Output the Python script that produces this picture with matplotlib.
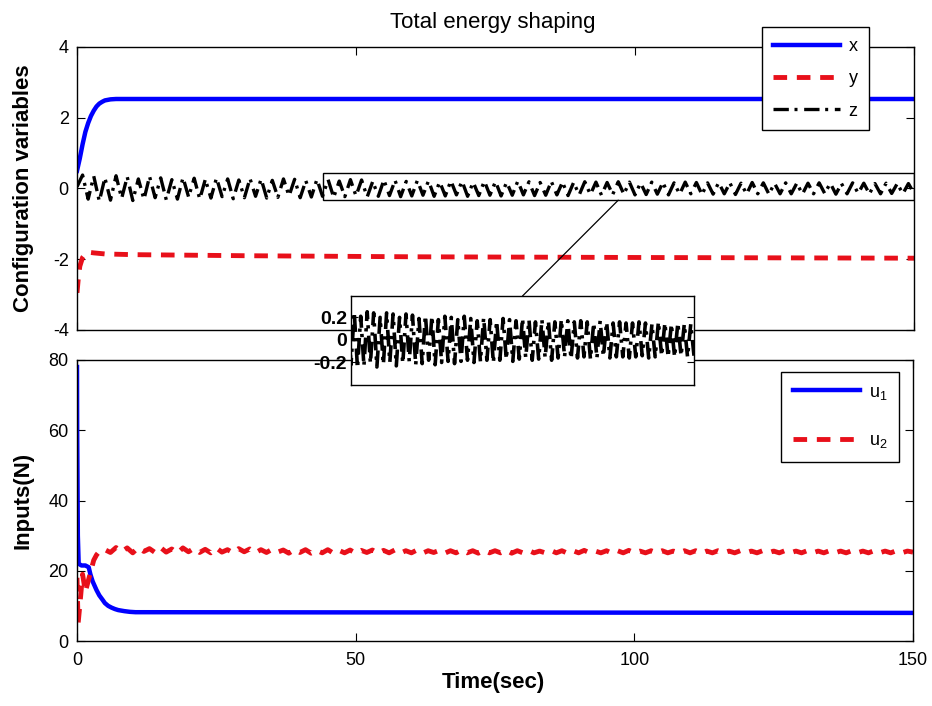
import numpy as np
import matplotlib
matplotlib.use("Agg")
import matplotlib.pyplot as plt
from matplotlib.patches import Rectangle, ConnectionPatch

plt.rcParams['font.family'] = 'Liberation Sans'
plt.rcParams['mathtext.default'] = 'regular'
plt.rcParams['axes.unicode_minus'] = False

# ---- configuration variables ----
t_x = [0, 0.5, 1, 1.5, 2, 2.5, 3, 3.5, 4, 4.5, 5, 6, 7, 8, 150]
x_val = [0.5, 0.85, 1.25, 1.6, 1.85, 2.05, 2.2, 2.32, 2.4, 2.45, 2.49, 2.52, 2.53, 2.53, 2.53]

t_y = [0, 0.2, 0.5, 1, 1.5, 2, 3, 5, 10, 30, 60, 100, 150]
y_val = [-2.95, -2.6, -2.2, -1.95, -1.85, -1.8, -1.82, -1.85, -1.87, -1.9, -1.93, -1.95, -1.97]

# z sampled once per second, 0..150 s
t_z = np.arange(0, 151, 1.0)
z_val = [
    0.05, 0.38, -0.30, 0.35, -0.36, 0.30, -0.33, 0.36, -0.28, 0.33,
    -0.34, 0.27, -0.31, 0.34, -0.26, 0.30, -0.32, 0.25, -0.30, 0.31,
    -0.24, 0.29, -0.30, 0.26, -0.27, 0.30, -0.23, 0.27, -0.29, 0.24,
    -0.26, 0.28, -0.22, 0.27, -0.27, 0.23, -0.25, 0.27, -0.21, 0.26,
    -0.26, 0.22, -0.24, 0.26, -0.22, 0.25, -0.25, 0.21, -0.23, 0.25,
    -0.21, 0.24, -0.24, 0.20, -0.22, 0.24, -0.20, 0.23, -0.23, 0.20,
    -0.21, 0.23, -0.19, 0.22, -0.22, 0.19, -0.21, 0.22, -0.18, 0.21,
    -0.22, 0.18, -0.20, 0.21, -0.19, 0.20, -0.21, 0.18, -0.19, 0.21,
    -0.18, 0.19, -0.20, 0.17, -0.19, 0.20, -0.18, 0.18, -0.20, 0.17,
    -0.18, 0.19, -0.17, 0.18, -0.19, 0.17, -0.17, 0.19, -0.16, 0.18,
    -0.18, 0.16, -0.17, 0.18, -0.16, 0.17, -0.18, 0.16, -0.16, 0.18,
    -0.15, 0.17, -0.17, 0.16, -0.16, 0.17, -0.15, 0.16, -0.17, 0.15,
    -0.16, 0.17, -0.15, 0.16, -0.16, 0.15, -0.15, 0.16, -0.15, 0.15,
    -0.16, 0.15, -0.15, 0.16, -0.14, 0.15, -0.16, 0.14, -0.15, 0.16,
    -0.14, 0.15, -0.15, 0.14, -0.15, 0.15, -0.14, 0.14, -0.15, 0.14, -0.14,
]

# ---- inputs ----
t_u1 = [0, 0.03, 0.08, 0.15, 0.3, 0.8, 1.5, 2.1, 2.4, 2.8, 3.5, 4.0, 4.6,
        5.0, 5.6, 6.2, 6.8, 7.4, 8.5, 9.5, 10.5, 150]
u1_val = [78, 60, 48, 30, 22, 21.5, 21.5, 21, 19, 17, 14.5, 13, 11.7,
          10.8, 10, 9.5, 9.1, 8.8, 8.5, 8.3, 8.2, 8.0]

t_u2_head = [0, 0.2, 0.5, 1.0, 1.5, 2.0, 2.5, 3.0, 3.5, 4.0, 4.5]
u2_head = [18, 5, 10, 19, 14, 17, 20, 23, 24.5, 25.5, 26]
t_u2_body = np.arange(5, 151, 1.0)
u2_body = [
    26.0, 25.2, 26.6, 25.4, 26.5, 25.1, 26.6, 25.5, 26.3, 25.2,
    26.6, 25.3, 26.2, 25.0, 26.5, 25.4, 26.4, 25.2, 26.1, 25.1,
    26.5, 25.3, 26.0, 25.1, 26.3, 25.4, 26.2, 25.1, 26.0, 25.2,
    26.1, 25.3, 25.9, 25.0, 26.0, 25.2, 26.0, 25.0, 25.8, 25.1,
    26.0, 25.0, 25.8, 25.1, 25.9, 25.0, 25.8, 25.2, 25.9, 25.0,
    25.8, 25.1, 25.9, 25.0, 25.7, 25.1, 25.9, 25.0, 25.7, 25.2,
    25.8, 25.0, 25.7, 25.1, 25.9, 25.1, 25.7, 25.0, 25.8, 25.1,
    25.7, 25.1, 25.8, 25.0, 25.7, 25.1, 25.8, 25.1, 25.6, 25.1,
    25.8, 25.1, 25.7, 25.0, 25.7, 25.1, 25.8, 25.1, 25.6, 25.1,
    25.7, 25.0, 25.7, 25.1, 25.8, 25.1, 25.6, 25.1, 25.7, 25.1,
    25.7, 25.1, 25.6, 25.1, 25.7, 25.1, 25.7, 25.0, 25.6, 25.1,
    25.7, 25.1, 25.6, 25.1, 25.7, 25.1, 25.6, 25.1, 25.7, 25.1,
    25.6, 25.1, 25.7, 25.1, 25.6, 25.1, 25.7, 25.1, 25.6, 25.1,
    25.7, 25.1, 25.6, 25.1, 25.7, 25.1, 25.6, 25.1, 25.7, 25.1,
    25.6, 25.1, 25.7, 25.1, 25.6, 25.3,
]
t_u2 = np.concatenate([t_u2_head, t_u2_body])
u2_val = np.concatenate([u2_head, u2_body])

DASH = (0, (2.8, 2.0))
DASHDOT = (0, (4.6, 1.7, 0.9, 2.0))


def matlab_axes(ax):
    ax.tick_params(direction='in', top=True, right=True, length=6,
                   width=0.8, labelsize=13)
    ax.tick_params(axis='x', pad=8)
    ax.tick_params(axis='y', pad=6)
    for s in ax.spines.values():
        s.set_linewidth(1.0)


W, H = 932, 706
fig = plt.figure(figsize=(W / 100, H / 100), dpi=100)

ax1 = fig.add_axes([77 / W, 1 - 330 / H, 837 / W, 283 / H])
ax2 = fig.add_axes([77 / W, 1 - 641 / H, 836 / W, 281 / H])

# top: configuration variables
ax1.plot(t_x, x_val, color='#0000ff', lw=3.2, label='x')
ax1.plot(t_y, y_val, color='#e8101a', lw=3.5, linestyle=DASH, label='y')
ax1.plot(t_z, z_val, color='black', lw=2.4, linestyle=DASHDOT, label='z')
ax1.set_xlim(0, 150)
ax1.set_ylim(-4, 4)
ax1.set_yticks([-4, -2, 0, 2, 4])
ax1.set_xticks([0, 50, 100, 150])
ax1.set_xticklabels([])
matlab_axes(ax1)
ax1.set_ylabel('Configuration variables', fontsize=16, fontweight='bold')
ax1.yaxis.set_label_coords(-0.0514, 0.5)

# zoom window around the steady part of z
ax1.add_patch(Rectangle((44, -0.33), 106, 0.77, fill=False,
                        edgecolor='black', lw=1.0, zorder=5))

leg1 = ax1.legend(loc='upper left', bbox_to_anchor=(762 / W, 1 - 27 / H),
                  bbox_transform=fig.transFigure, fancybox=False,
                  edgecolor='black', framealpha=1, fontsize=13,
                  handlelength=3.7, handletextpad=0.5, labelspacing=0.85,
                  borderpad=0.6, borderaxespad=0)
leg1.get_frame().set_linewidth(1.0)
leg1.set_zorder(10)

fig.text(493 / W, 1 - 28 / H, 'Total energy shaping', ha='center',
         va='baseline', fontsize=16)

# bottom: inputs
ax2.plot(t_u1, u1_val, color='#0000ff', lw=3.2, label='u$_1$')
ax2.plot(t_u2, u2_val, color='#e8101a', lw=3.5, linestyle=DASH, label='u$_2$')
ax2.set_xlim(0, 150)
ax2.set_ylim(0, 80)
ax2.set_yticks([0, 20, 40, 60, 80])
ax2.set_xticks([0, 50, 100, 150])
matlab_axes(ax2)
ax2.set_ylabel('Inputs(N)', fontsize=16, fontweight='bold')
ax2.yaxis.set_label_coords(-0.0526, 0.5)
ax2.set_xlabel('Time(sec)', fontsize=16, fontweight='bold')
ax2.xaxis.set_label_coords(0.4976, -0.11)

leg2 = ax2.legend(loc='upper left', bbox_to_anchor=(781 / W, 1 - 372 / H),
                  bbox_transform=fig.transFigure, fancybox=False,
                  edgecolor='black', framealpha=1, fontsize=13,
                  handlelength=3.7, handletextpad=0.5, labelspacing=1.7,
                  borderpad=0.65, borderaxespad=0)
leg2.get_frame().set_linewidth(1.0)

# inset with the zoomed z signal
ax3 = fig.add_axes([351 / W, 1 - 385 / H, 343 / W, 89 / H])
ax3.set_facecolor('white')
ax3.plot(t_z, z_val, color='black', lw=2.6, linestyle=DASHDOT)
ax3.set_xlim(44, 150)
ax3.set_ylim(-0.40, 0.39)
ax3.set_xticks([])
ax3.set_yticks([-0.2, 0, 0.2])
ax3.set_yticklabels(['-0.2', '0', '0.2'], fontweight='bold')
ax3.tick_params(axis='y', direction='in', right=True, length=5,
                labelsize=14, pad=3)
for s in ax3.spines.values():
    s.set_linewidth(1.0)

con = ConnectionPatch(xyA=(97, -0.33), coordsA=ax1.transData,
                      xyB=(0.5, 1.0), coordsB=ax3.transAxes,
                      color='black', lw=0.9)
fig.add_artist(con)

fig.savefig('out.png', dpi=100)
